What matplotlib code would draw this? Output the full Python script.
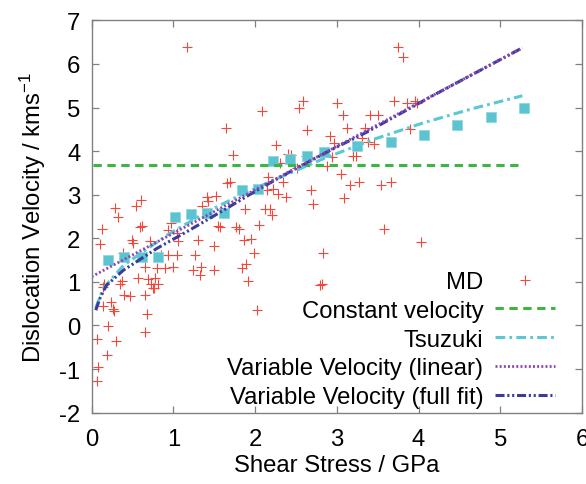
import matplotlib
matplotlib.use('Agg')
import matplotlib.pyplot as plt

plt.rcParams['font.family'] = ['Liberation Sans', 'DejaVu Sans']
plt.rcParams['axes.unicode_minus'] = False
plt.rcParams['mathtext.default'] = 'regular'
plt.rcParams['lines.scale_dashes'] = False

# MD data: shear stress (GPa), dislocation velocity (km/s)
md_x = [0.061, 0.081, 0.191, 0.069, 0.295, 0.203, 0.656, 0.681, 0.136, 0.240,
        0.257, 0.273, 0.393, 0.466, 0.650, 0.756, 0.147, 0.144, 0.344, 0.365,
        0.570, 0.687, 0.771, 0.729, 0.812, 0.760, 0.655, 0.799, 0.900, 0.993,
        0.383, 0.852, 0.938, 1.038, 1.264, 0.928, 0.971, 1.044, 1.056, 0.126,
        0.591, 0.612, 0.491, 0.506, 0.099, 0.711, 0.548, 0.607, 0.289, 0.319,
        1.170, 1.295, 1.338, 1.244, 1.326, 1.499, 1.499, 1.550, 1.570, 1.770,
        1.799, 1.864, 1.947, 1.989, 1.892, 1.836, 1.913, 2.020, 2.051, 1.876,
        1.408, 1.427, 1.521, 1.346, 1.652, 1.693, 1.726, 1.640, 2.088, 2.121,
        2.182, 2.203, 2.148, 2.219, 2.277, 2.382, 2.162, 2.342, 2.308, 2.509,
        2.406, 2.437, 2.253, 2.540, 2.580, 2.632, 2.619, 2.682, 2.712, 2.794,
        2.823, 2.835, 2.917, 2.969, 2.941, 2.880, 3.006, 3.070, 3.121, 3.049,
        3.155, 3.091, 3.268, 3.202, 3.233, 3.305, 3.386, 3.449, 3.341, 3.406,
        3.508, 3.545, 3.660, 3.575, 3.703, 3.753, 3.814, 3.856, 3.957, 3.985,
        3.900, 4.034]
md_y = [-1.27, -0.96, -0.68, -0.31, -0.35, -0.01, -0.14, 0.26, 0.44, 0.53,
        0.37, 0.33, 0.70, 0.67, 0.69, 0.85, 0.94, 0.89, 0.96, 1.01,
        1.10, 1.06, 1.08, 0.94, 0.94, 0.87, 1.33, 1.31, 1.32, 1.33,
        1.67, 1.61, 1.61, 1.62, 1.61, 2.20, 2.34, 2.13, 1.94, 2.21,
        2.25, 2.28, 1.95, 1.90, 1.87, 1.93, 2.73, 2.87, 2.70, 2.48,
        6.38, 1.97, 1.34, 1.28, 1.15, 1.27, 1.83, 2.28, 2.25, 2.27,
        2.22, 1.97, 1.99, 1.66, 1.41, 1.31, 1.03, 0.35, 2.31, 2.68,
        2.94, 2.86, 2.98, 2.75, 3.26, 3.30, 3.90, 4.52, 4.92, 2.67,
        2.67, 2.54, 3.11, 3.12, 3.01, 2.94, 3.41, 3.30, 3.72, 3.61,
        3.93, 3.90, 4.13, 5.00, 5.15, 4.48, 3.89, 3.11, 2.78, 0.92,
        0.95, 1.67, 4.35, 4.19, 3.86, 3.67, 5.10, 4.84, 4.52, 3.48,
        3.23, 2.92, 3.30, 3.88, 3.89, 4.29, 4.20, 4.17, 4.54, 4.84,
        4.84, 3.23, 3.29, 2.22, 5.15, 6.38, 6.15, 5.10, 5.14, 5.11,
        4.50, 1.92]

# averaged MD values (squares)
avg_x = [0.20, 0.40, 0.61, 0.81, 1.02, 1.22, 1.41, 1.62, 1.84, 2.03,
         2.22, 2.43, 2.63, 2.84, 3.25, 3.66, 4.07, 4.47, 4.89, 5.29]
avg_y = [1.51, 1.56, 1.58, 1.58, 2.49, 2.55, 2.57, 2.59, 3.10, 3.14,
         3.77, 3.81, 3.89, 3.97, 4.11, 4.20, 4.38, 4.61, 4.78, 4.98]

# model curves
const_x = [0.02, 5.27]
const_y = [3.68, 3.68]

tsu_x = [0.05, 0.14, 0.39, 0.92, 1.41, 1.82, 2.22, 2.84, 3.45, 4.06, 4.67, 5.27]
tsu_y = [0.40, 0.85, 1.38, 2.07, 2.61, 2.99, 3.33, 3.83, 4.27, 4.65, 4.98, 5.27]

lin_x = [0.0, 5.27]
lin_y = [1.12, 6.37]

full_x = [0.05, 0.10, 0.18, 0.39, 0.80, 1.20, 1.61, 2.02, 2.43, 2.92, 3.37, 4.18, 5.27]
full_y = [0.35, 0.62, 0.92, 1.27, 1.77, 2.19, 2.64, 3.10, 3.53, 4.02, 4.44, 5.28, 6.37]

W, H = 586, 485
fs = 17.2
fig = plt.figure(figsize=(W / 100, H / 100), dpi=100)
ax = fig.add_axes([91.7 / W, 1 - 413.6 / H, (582 - 91.7) / W, (413.6 - 21.4) / H])

ax.plot(md_x, md_y, ls='none', marker='+', ms=6.5, mew=0.8, color='#f5463a', label='MD')
ax.plot(avg_x, avg_y, ls='none', marker='s', ms=7, mew=0.6, color='#5bc4d0',
        markeredgecolor='#8fd8e0')
ax.plot(const_x, const_y, color='#3db544', lw=2.2, dashes=(6, 4), label='Constant velocity')
ax.plot(tsu_x, tsu_y, color='#5bc8d4', lw=2.2, dashes=(7, 3, 2, 3), label='Tsuzuki')
ax.plot(full_x, full_y, color='#3b3b9c', lw=2.2, dashes=(6.5, 2, 1.5, 2, 1.5, 2),
        label='Variable Velocity (full fit)')
ax.plot(lin_x, lin_y, color='#8c45b4', lw=2.0, dashes=(1.4, 1.6),
        label='Variable Velocity (linear)')

ax.set_xlim(0, 6)
ax.set_ylim(-2, 7)
ax.set_xticks(range(0, 7))
ax.set_yticks(range(-2, 8))
for s in ax.spines.values():
    s.set_color('#808080')
    s.set_linewidth(1.0)
ax.tick_params(direction='in', top=True, right=True, length=4.8, width=0.9,
               color='#808080', labelsize=fs)
ax.tick_params(axis='x', pad=11)
ax.tick_params(axis='y', pad=8)

ax.set_xlabel('Shear Stress / GPa', fontsize=fs, labelpad=3)
ax.set_ylabel('Dislocation Velocity / kms$^{-1}$', fontsize=fs, labelpad=8)

h, l = ax.get_legend_handles_labels()
order = [0, 1, 2, 4, 3]
ax.legend([h[i] for i in order], [l[i] for i in order], loc='lower right',
          bbox_to_anchor=(0.945, 0.012), frameon=False, markerfirst=False,
          fontsize=fs, handlelength=2.5, handletextpad=0.5, labelspacing=0.28,
          borderpad=0, borderaxespad=0)

fig.savefig('out.png', dpi=100)
